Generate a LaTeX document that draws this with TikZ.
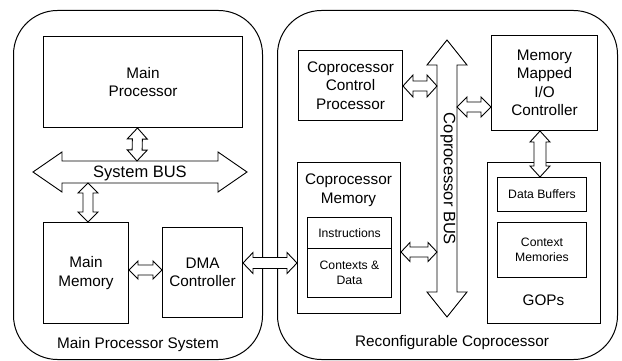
\documentclass[tikz,border=0pt]{standalone}
\usepackage{fontspec}
\setmainfont{Liberation Sans}
\usetikzlibrary{calc}
\newcommand{\mainfs}{\fontsize{15.3}{18.5}\selectfont}
\newcommand{\smallfs}{\fontsize{12.2}{14.5}\selectfont}
\newcommand{\busfs}{\fontsize{16.5}{19}\selectfont}
\newcommand{\hollowarrow}[5]{%
  \coordinate (ha1) at (#1);
  \coordinate (ha2) at (#2);
  \coordinate (hb1) at ($(ha1)!#5!(ha2)$);
  \coordinate (hb2) at ($(ha2)!#5!(ha1)$);
  \filldraw[arrowline] (ha1) -- ($(hb1)!#4!90:(ha2)$) -- ($(hb1)!#3!90:(ha2)$)
    -- ($(hb2)!#3!-90:(ha1)$) -- ($(hb2)!#4!-90:(ha1)$) -- (ha2)
    -- ($(hb2)!#4!90:(ha1)$) -- ($(hb2)!#3!90:(ha1)$)
    -- ($(hb1)!#3!-90:(ha2)$) -- ($(hb1)!#4!-90:(ha2)$) -- cycle;
}
\tikzset{
  box/.style={draw, line width=1pt, inner sep=0pt, anchor=north west, align=center, font=\mainfs},
  smallbox/.style={box, font=\smallfs},
  outerbox/.style={draw, line width=1pt, inner sep=0pt, anchor=north west, rounded corners=44pt},
  arrowline/.style={draw=black, fill=white, line width=0.9pt, line join=miter},
  lbl/.style={inner sep=0pt, align=center, font=\mainfs},
}
\begin{document}
\begin{tikzpicture}[x=1pt, y=-1pt]
\useasboundingbox (0,0) rectangle (622,361);
% outer regions
\node[outerbox, minimum width=249pt, minimum height=349pt] (mpsys) at (13,10) {};
\node[outerbox, minimum width=340pt, minimum height=349pt] (rcop) at (277,10) {};
\node[lbl] (mpsyslbl) at (138,345) {Main Processor System};
\node[lbl] (rcoplbl) at (452,343) {Reconfigurable Coprocessor};
% main processor system
\node[box, minimum width=199pt, minimum height=91pt] (mp) at (43,36) {Main\\Processor};
\node[box, minimum width=85pt, minimum height=101pt] (mm) at (43,222) {Main\\Memory};
\node[box, minimum width=80pt, minimum height=90pt] (dma) at (162,227) {DMA\\Controller};
% reconfigurable coprocessor
\node[box, minimum width=104pt, minimum height=70pt] (ccp) at (298,50) {Coprocessor\\Control\\Processor};
\node[box, minimum width=103pt, minimum height=151pt] (cm) at (297,162) {};
\node[lbl] (cmlbl) at (348.5,190) {Coprocessor\\Memory};
\node[smallbox, minimum width=84pt, minimum height=31pt] (ins) at (307,217) {Instructions};
\node[smallbox, minimum width=84pt, minimum height=49pt] (ctx) at (307,248) {Contexts \&\\Data};
\node[box, minimum width=106pt, minimum height=95pt] (mmio) at (491,35) {Memory\\Mapped\\I/O\\Controller};
\node[box, minimum width=113pt, minimum height=161pt] (gops) at (487,162) {};
\node[smallbox, minimum width=89pt, minimum height=34pt] (db) at (497,177) {Data Buffers};
\node[smallbox, minimum width=89pt, minimum height=55pt] (cmem) at (497,222) {Context\\Memories};
\node[lbl] (gopslbl) at (543.5,300) {GOPs};
% buses
\coordinate (sbl) at (33,172);
\coordinate (sbr) at (247,172);
\hollowarrow{sbl}{sbr}{11pt}{20pt}{29pt}
\node[lbl, font=\busfs] (sblbl) at (140,173) {System BUS};
\coordinate (cbt) at (447,40);
\coordinate (cbb) at (447,317);
\hollowarrow{cbt}{cbb}{10pt}{20pt}{25pt}
\node[lbl, font=\busfs, rotate=-90] (cblbl) at (448,179) {Coprocessor BUS};
\coordinate (sbtop) at (137,161);
\coordinate (sbbot) at (88,183);
\coordinate (cbleft) at (437,0);
\coordinate (cbright) at (457,0);
% connectors
\coordinate (a1s) at ($(mp.south)+(-5.5,0)$);
\hollowarrow{a1s}{sbtop}{5pt}{10pt}{11pt}
\coordinate (a2e) at (mm.north -| sbbot);
\hollowarrow{sbbot}{a2e}{5pt}{10pt}{10pt}
\coordinate (a3s) at (mm.east |- 0,270);
\coordinate (a3e) at (dma.west |- 0,270);
\hollowarrow{a3s}{a3e}{5pt}{9pt}{9pt}
\coordinate (a4s) at (dma.east |- 0,263);
\coordinate (a4e) at (cm.west |- 0,263);
\hollowarrow{a4s}{a4e}{5.5pt}{10.5pt}{10pt}
\coordinate (a5s) at (cm.east |- 0,252);
\coordinate (a5e) at (cbleft |- 0,252);
\hollowarrow{a5s}{a5e}{5pt}{9.5pt}{9pt}
\coordinate (a6s) at (ccp.east |- 0,86);
\coordinate (a6e) at (cbleft |- 0,86);
\hollowarrow{a6s}{a6e}{5pt}{11pt}{10pt}
\coordinate (a7s) at (cbright |- 0,107);
\coordinate (a7e) at (mmio.west |- 0,107);
\hollowarrow{a7s}{a7e}{5pt}{10pt}{10pt}
\coordinate (a8s) at (mmio.south -| 540,0);
\coordinate (a8e) at (db.north -| 540,0);
\hollowarrow{a8s}{a8e}{6pt}{10pt}{11pt}
\end{tikzpicture}
\end{document}
